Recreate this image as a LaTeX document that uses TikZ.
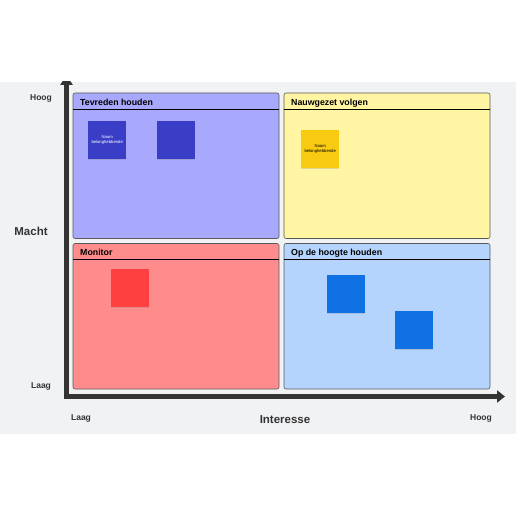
\documentclass[tikz,border=0pt]{standalone}
\usepackage{fontspec}
\setmainfont{Liberation Sans}
\usetikzlibrary{arrows.meta,positioning,shadows}

\definecolor{bggray}{HTML}{F1F2F4}
\definecolor{axisgray}{HTML}{333333}
\definecolor{satisfyfill}{HTML}{A8A8FC}
\definecolor{managefill}{HTML}{FFF5A2}
\definecolor{monitorfill}{HTML}{FF8C8C}
\definecolor{informfill}{HTML}{B4D4FE}
\definecolor{stickyindigo}{HTML}{3A3EC6}
\definecolor{stickyyellow}{HTML}{F8CB12}
\definecolor{stickyred}{HTML}{FF4040}
\definecolor{stickyblue}{HTML}{1071E4}

\begin{document}
\begin{tikzpicture}[
    x=1pt, y=-1pt,
    every node/.style={font=\bfseries},
    quad/.style={draw=black!65, rounded corners=2pt, line width=0.6pt, minimum width=206pt, minimum height=145.5pt, inner sep=0pt, outer sep=0pt},
    quadtitle/.style={anchor=base west, inner sep=0pt, font=\bfseries\fontsize{8.8}{10}\selectfont},
    headline/.style={line width=0.9pt, black},
    sticky/.style={minimum size=38pt, inner sep=0pt, align=center, anchor=north west, font=\fontsize{4.2}{5}\selectfont, drop shadow={shadow xshift=-0.5pt, shadow yshift=-1.2pt, opacity=0.25}},
    ticklabel/.style={text=axisgray, font=\bfseries\fontsize{8.5}{10}\selectfont},
    axislabel/.style={text=axisgray, font=\bfseries\fontsize{11.5}{13}\selectfont},
    axis/.style={line width=4.5pt, axisgray, {Triangle[length=10pt,width=12pt]}-{Triangle[length=8pt,width=12pt]}}
]
\fill[white] (0,0) rectangle (516,516);
\fill[bggray] (0,82) rectangle (516,434);

\node[quad, fill=satisfyfill, anchor=north west] (satisfy) at (73,93) {};
\node[quad, fill=managefill, right=5pt of satisfy] (manage) {};
\node[quad, fill=monitorfill, below=5pt of satisfy] (monitor) {};
\node[quad, fill=informfill, right=5pt of monitor] (inform) {};

\node[quadtitle] (satisfytitle) at ([xshift=7pt,yshift=-12.3pt]satisfy.north west) {Tevreden houden};
\node[quadtitle] (managetitle) at ([xshift=7pt,yshift=-12.3pt]manage.north west) {Nauwgezet volgen};
\node[quadtitle] (monitortitle) at ([xshift=7pt,yshift=-12.3pt]monitor.north west) {Monitor};
\node[quadtitle] (informtitle) at ([xshift=7pt,yshift=-12.3pt]inform.north west) {Op de hoogte houden};

\draw[headline] ([yshift=-16pt]satisfy.north west) -- ([yshift=-16pt]satisfy.north east);
\draw[headline] ([yshift=-16pt]manage.north west) -- ([yshift=-16pt]manage.north east);
\draw[headline] ([yshift=-16pt]monitor.north west) -- ([yshift=-16pt]monitor.north east);
\draw[headline] ([yshift=-16pt]inform.north west) -- ([yshift=-16pt]inform.north east);

\node[sticky, fill=stickyindigo, text=white] (holderA) at (88,121) {Naam\\belanghebbende};
\node[sticky, fill=stickyindigo] (holderB) at (157,121) {};
\node[sticky, fill=stickyyellow, text=black] (holderC) at (301,130) {Naam\\belanghebbende};
\node[sticky, fill=stickyred] (holderD) at (111,269) {};
\node[sticky, fill=stickyblue] (holderE) at (327,275) {};
\node[sticky, fill=stickyblue] (holderF) at (395,311) {};

\coordinate (ytop) at (66.5,75);
\coordinate (origin) at (66.5,396.5);
\coordinate (xend) at (505,396.5);
\begin{scope}
\clip (0,82) rectangle (516,434);
\draw[axis] (ytop) -- (origin) -- (xend);
\end{scope}

\node[ticklabel] (powerhigh) at (41,98) {Hoog};
\node[ticklabel] (powerlow) at (41,386) {Laag};
\node[axislabel] (power) at (31,231) {Macht};
\node[ticklabel] (interestlow) at (81,418) {Laag};
\node[axislabel] (interest) at (285,420) {Interesse};
\node[ticklabel] (interesthigh) at (481,418) {Hoog};
\end{tikzpicture}
\end{document}
